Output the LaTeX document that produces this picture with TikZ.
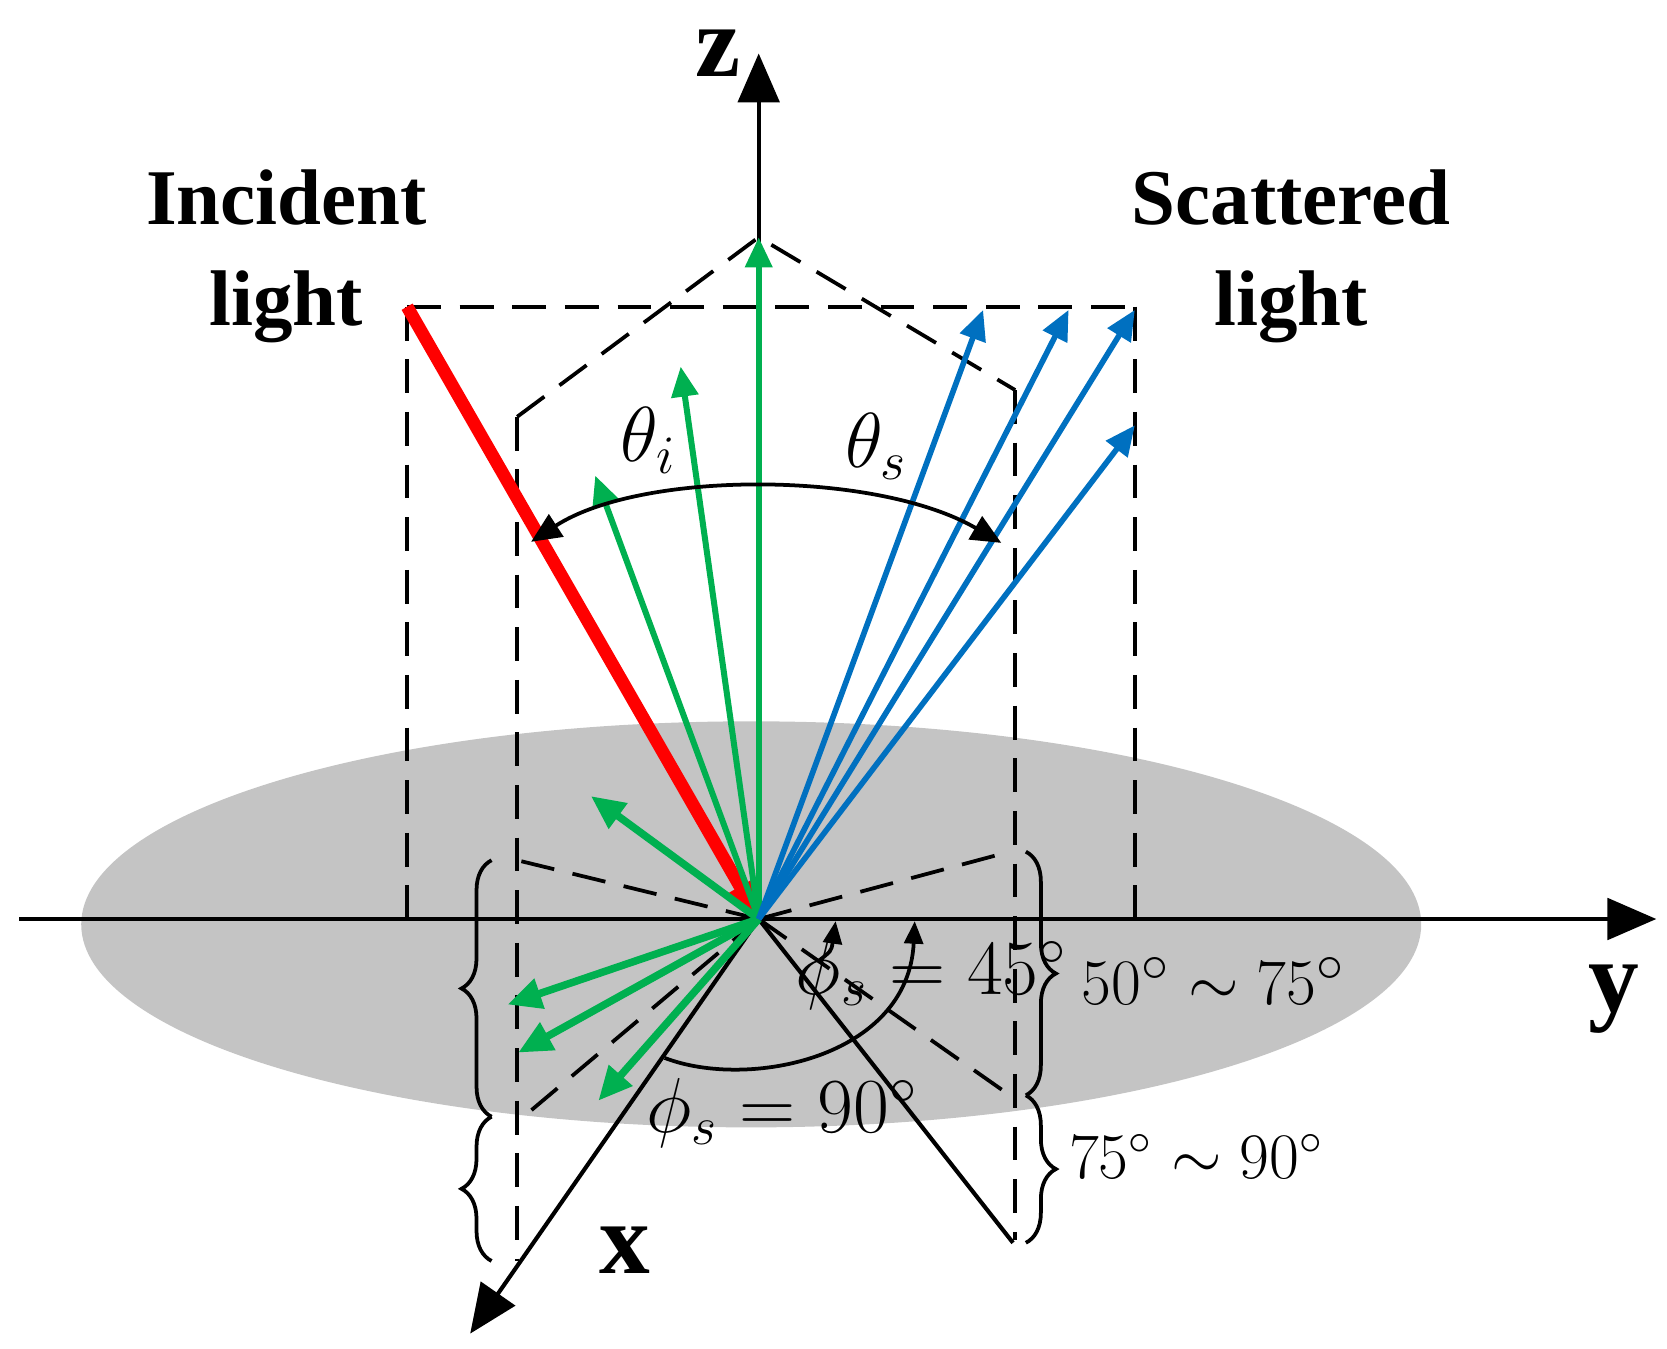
\documentclass[tikz,border=0pt]{standalone}
\usepackage{fontspec}
\setmainfont{Liberation Serif}
\usetikzlibrary{arrows.meta,positioning,calc,decorations.pathreplacing}
\definecolor{grn}{RGB}{0,176,80}
\definecolor{blu}{RGB}{0,112,192}
\definecolor{plate}{RGB}{196,196,196}
\begin{document}
\begin{tikzpicture}[
  x=0.01cm, y=-0.01cm,
  axis/.style={line width=1.1pt, -{Triangle[length=13pt,width=11pt]}},
  guide/.style={line width=1pt, dash pattern=on 9pt off 5pt},
  gray ray/.style={grn, line width=1.6pt, -{Triangle[length=8pt,width=7pt]}},
  green ray/.style={grn, line width=2pt, -{Triangle[length=9pt,width=8pt]}},
  blue ray/.style={blu, line width=1.5pt, -{Triangle[length=8pt,width=7pt]}},
  angle/.style={line width=1pt},
  bigtext/.style={font=\fontsize{21}{27}\selectfont\bfseries, align=center},
  axlabel/.style={font=\fontsize{27}{28}\selectfont\bfseries},
  brace/.style={decorate, decoration={brace, amplitude=8pt}, line width=1pt},
  rng/.style={font=\fontsize{19}{20}\selectfont}
]
  \useasboundingbox (0,0) rectangle (1560,1262);
  % surface
  \fill[plate] (703,865) ellipse [x radius=627, y radius=190];

  % points
  \coordinate (O) at (710,860);
  \coordinate (Apex) at (710,222);
  \coordinate (TL) at (381,287);
  \coordinate (TR) at (1062,287);
  \coordinate (BL) at (381,860);
  \coordinate (BR) at (1062,860);
  \coordinate (PL) at (484,390);
  \coordinate (PR) at (950,365);

  % dashed frame
  \draw[guide] (TL) -- (TR);
  \draw[guide] (TL) -- (BL);
  \draw[guide] (TR) -- (BR);
  \draw[guide] (PL) -- (Apex) -- (PR);
  \draw[guide] (PL) -- (484,1180);
  \draw[guide] (PR) -- (950,1160);
  \draw[guide] (O) -- (484,805);
  \draw[guide] (O) -- (945,797);
  \draw[guide] (O) -- (490,1045);
  \draw[guide] (O) -- (945,1025);
  \draw[line width=1.1pt] (O) -- (948,1163);

  % axes
  \draw[axis] (18,860) -- (1550,860);
  \draw[axis] (O) -- (710,50);
  \draw[axis] (O) -- (440,1248);
  \node[axlabel, inner sep=0pt] (zl) at (672,50) {z};
  \node[axlabel] (yl) at (1510,935) {y};
  \node[axlabel] (xl) at (585,1170) {x};

  % incident light
  \draw[red, line width=3.4pt, -{Triangle[length=10pt,width=8pt]}] (TL) -- (O);

  % green scattered rays
  \draw[gray ray] (O) -- (Apex);
  \draw[gray ray] (O) -- (637,343);
  \draw[gray ray] (O) -- (557,445);
  \draw[green ray] (O) -- (553,745);
  \draw[green ray] (O) -- (475,940);
  \draw[green ray] (O) -- (485,985);
  \draw[green ray] (O) -- (560,1030);

  % blue rays
  \foreach \bx/\by in {920/290, 1000/290, 1062/290, 1062/398}
    \draw[blue ray] (O) -- (\bx,\by);

  % theta arc
  \draw[angle, {Triangle[length=8pt,width=7pt]}-{Triangle[length=8pt,width=7pt]}]
    (497,507) .. controls (600,440) and (820,440) .. (937,508);
  \node[font=\fontsize{22}{24}\selectfont] (ti) at (607,412) {$\theta_i$};
  \node[font=\fontsize{22}{24}\selectfont] (ts) at (820,418) {$\theta_s$};

  % phi arcs
  \draw[angle, -{Triangle[length=6pt,width=5pt]}] (765,900) .. controls (778,890) .. (782,862);
  \draw[angle, -{Triangle[length=6pt,width=5pt]}] (622,990) .. controls (700,1020) and (850,990) .. (856,862);
  \node[font=\fontsize{20}{22}\selectfont, inner sep=0pt] (p45) at (872,912) {$\phi_s=45^{\circ}$};
  \node[font=\fontsize{21}{22}\selectfont] (p90) at (732,1042) {$\phi_s=90^{\circ}$};

  % braces
  \draw[brace] (460,1045) -- (460,805);
  \draw[brace] (460,1180) -- (460,1045);
  \draw[brace] (960,797) -- (960,1025);
  \draw[brace] (960,1025) -- (960,1163);
  \node[rng, anchor=west] (r1) at (1000,918) {$50^{\circ}\sim75^{\circ}$};
  \node[rng, anchor=west, font=\fontsize{18}{20}\selectfont] (r2) at (988,1082) {$75^{\circ}\sim90^{\circ}$};

  % labels
  \node[bigtext] (inc) at (268,240) {Incident\\light};
  \node[bigtext] (sca) at (1208,240) {Scattered\\light};
\end{tikzpicture}
\end{document}
